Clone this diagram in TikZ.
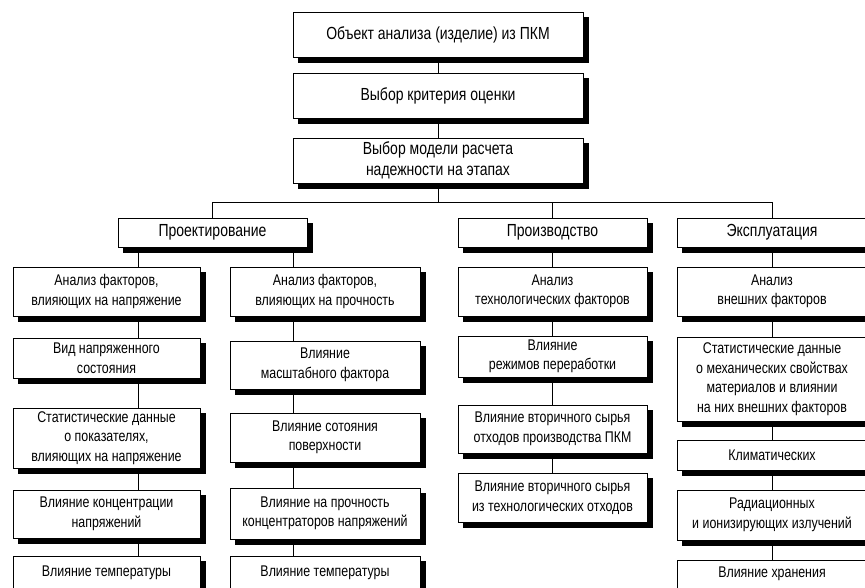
\documentclass[tikz,border=0pt]{standalone}
\usepackage{fontspec}
\setmainfont[FakeStretch=0.8]{Liberation Sans}
\usetikzlibrary{backgrounds}

\tikzset{
  blk/.style={draw, fill=white, line width=0.8pt, align=center, inner sep=0pt,
    font=\fontsize{15.5}{19.5}\selectfont},
  bigblk/.style={blk, font=\fontsize{17.5}{20.5}\selectfont},
  shd/.style={fill=black},
  lnk/.style={line width=0.8pt}
}

\begin{document}
\begin{tikzpicture}[x=1pt,y=-1pt]
\useasboundingbox (0,0) rectangle (865,587);

% top chain
\node[bigblk, minimum width=290pt, minimum height=45pt] (obj) at (438,34.5) {Объект анализа (изделие) из ПКМ};
\node[bigblk, minimum width=290pt, minimum height=45pt] (crit) at (438,95.5) {Выбор критерия оценки};
\node[bigblk, minimum width=290pt, minimum height=45pt] (model) at (438,160.5) {Выбор модели расчета\\надежности на этапах};

% stages
\node[bigblk, minimum width=189pt, minimum height=29pt] (proj) at (212.5,232.5) {Проектирование};
\node[bigblk, minimum width=189pt, minimum height=29pt] (prod) at (552.5,232.5) {Производство};
\node[bigblk, minimum width=190pt, minimum height=29pt] (expl) at (772,232.5) {Эксплуатация};

% design: stress
\node[blk, minimum width=187pt, minimum height=49pt] (a1) at (106.5,291.5) {Анализ факторов,\\влияющих на напряжение};
\node[blk, minimum width=187pt, minimum height=40pt] (a2) at (106.5,358) {Вид напряженного\\состояния};
\node[blk, minimum width=187pt, minimum height=60pt] (a3) at (106.5,438) {Статистические данные\\о показателях,\\влияющих на напряжение};
\node[blk, minimum width=187pt, minimum height=48pt] (a4) at (106.5,514) {Влияние концентрации\\напряжений};
\node[blk, minimum width=187pt, minimum height=33pt] (a5) at (106.5,572.5) {Влияние температуры};

% design: strength
\node[blk, minimum width=190pt, minimum height=49pt] (b1) at (325,291.5) {Анализ факторов,\\влияющих на прочность};
\node[blk, minimum width=190pt, minimum height=48pt] (b2) at (325,365) {Влияние\\масштабного фактора};
\node[blk, minimum width=190pt, minimum height=49pt] (b3) at (325,437.5) {Влияние сотояния\\поверхности};
\node[blk, minimum width=190pt, minimum height=51pt] (b4) at (325,513.5) {Влияние на прочность\\концентраторов напряжений};
\node[blk, minimum width=190pt, minimum height=33pt] (b5) at (325,572.5) {Влияние температуры};

% production
\node[blk, minimum width=189pt, minimum height=49pt] (c1) at (552.5,291.5) {Анализ\\технологических факторов};
\node[blk, minimum width=189pt, minimum height=41pt] (c2) at (552.5,356.5) {Влияние\\режимов переработки};
\node[blk, minimum width=189pt, minimum height=48pt] (c3) at (552.5,429) {Влияние вторичного сырья\\отходов производства ПКМ};
\node[blk, minimum width=189pt, minimum height=49pt] (c4) at (552.5,497.5) {Влияние вторичного сырья\\из технологических отходов};

% operation
\node[blk, minimum width=190pt, minimum height=49pt] (d1) at (772,291.5) {Анализ\\внешних факторов};
\node[blk, minimum width=190pt, minimum height=84pt] (d2) at (772,379) {Статистические данные\\о механических свойствах\\материалов и влиянии\\на них внешних факторов};
\node[blk, minimum width=190pt, minimum height=30pt] (d3) at (772,455) {Климатических};
\node[blk, minimum width=190pt, minimum height=50pt] (d4) at (772,515) {Радиационных\\и ионизирующих излучений};
\node[blk, minimum width=190pt, minimum height=28pt] (d5) at (772,574) {Влияние хранения};

\coordinate (bus) at (0,202);
\coordinate (l1) at (138,0);
\coordinate (l2) at (293,0);

\begin{scope}[on background layer]
\draw[lnk] (obj) -- (crit);
\draw[lnk] (crit) -- (model);
\draw[lnk] (model.south) -- (model.south |- bus);
\draw[lnk] (proj.north) -- (proj.north |- bus) -- (expl.north |- bus) -- (expl.north);
\draw[lnk] (prod.north) -- (prod.north |- bus);
\foreach \u/\v in {proj/a1,a1/a2,a2/a3,a3/a4,a4/a5}
  \draw[lnk] (\u.south -| l1) -- (\v.north -| l1);
\foreach \u/\v in {proj/b1,b1/b2,b2/b3,b3/b4,b4/b5}
  \draw[lnk] (\u.south -| l2) -- (\v.north -| l2);
\foreach \u/\v in {prod/c1,c1/c2,c2/c3,c3/c4}
  \draw[lnk] (\u) -- (\v);
\foreach \u/\v in {expl/d1,d1/d2,d2/d3,d3/d4,d4/d5}
  \draw[lnk] (\u) -- (\v);
\end{scope}

% shadows along right and bottom sides
\foreach \n in {obj,crit,model,proj,prod,expl,a1,a2,a3,a4,a5,b1,b2,b3,b4,b5,c1,c2,c3,c4,d1,d2,d3,d4,d5}
  \fill[shd] ([xshift=0.4pt,yshift=-5.5pt]\n.north east) -- ([xshift=5.5pt,yshift=-5.5pt]\n.north east)
    -- ([xshift=5.5pt,yshift=-5.5pt]\n.south east) -- ([xshift=5.5pt,yshift=-5.5pt]\n.south west)
    -- ([yshift=-0.4pt,xshift=5.5pt]\n.south west) -- ([xshift=0.4pt,yshift=-0.4pt]\n.south east) -- cycle;
\end{tikzpicture}
\end{document}
